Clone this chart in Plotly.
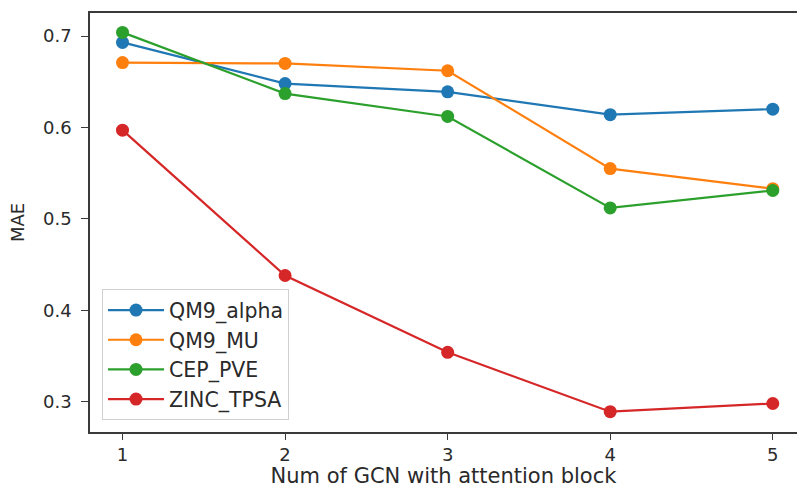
import plotly.graph_objects as go

x_blocks = [1, 2, 3, 4, 5]
qm9_alpha = [0.693, 0.648, 0.639, 0.614, 0.620]
qm9_mu = [0.671, 0.670, 0.662, 0.555, 0.533]
cep_pve = [0.704, 0.637, 0.612, 0.512, 0.531]
zinc_tpsa = [0.597, 0.438, 0.354, 0.289, 0.298]

series_names = ["QM9_alpha", "QM9_MU", "CEP_PVE", "ZINC_TPSA"]
series_values = [qm9_alpha, qm9_mu, cep_pve, zinc_tpsa]
colors = ["#1f77b4", "#ff7f0e", "#2ca02c", "#d62728"]

fig = go.Figure()
for name, vals, c in zip(series_names, series_values, colors):
    fig.add_trace(go.Scatter(
        x=x_blocks, y=vals, name=name, mode="lines+markers",
        line=dict(color=c, width=2.2),
        marker=dict(color=c, size=13),
    ))

font = "DejaVu Sans, sans-serif"
fig.update_layout(
    width=797, height=488,
    margin=dict(l=90, r=0, t=13, b=56),
    plot_bgcolor="white", paper_bgcolor="white",
    font=dict(family=font, color="#2a2a2a", size=18),
    showlegend=True,
    legend=dict(
        x=0.017, y=0.028, xanchor="left", yanchor="bottom",
        bgcolor="rgba(255,255,255,0.85)", bordercolor="#d0d0d0", borderwidth=1,
        font=dict(family=font, size=20.5, color="#2a2a2a"),
        itemwidth=56, tracegroupgap=0,
    ),
    xaxis=dict(
        range=[0.8, 5.149], tickvals=x_blocks, ticktext=[str(v) for v in x_blocks],
        showgrid=False, zeroline=False,
        showline=True, linecolor="#3a3a3a", linewidth=1.5, mirror=True,
        ticks="outside", ticklen=6, tickwidth=1, tickcolor="#3a3a3a",
        tickfont=dict(size=18),
        title=dict(text="Num of GCN with attention block", font=dict(size=21), standoff=4),
    ),
    yaxis=dict(
        range=[0.2668, 0.7252], tickvals=[0.3, 0.4, 0.5, 0.6, 0.7],
        ticktext=["0.3", "0.4", "0.5", "0.6", "0.7"],
        showgrid=False, zeroline=False,
        showline=True, linecolor="#3a3a3a", linewidth=1.5, mirror=False,
        ticks="outside", ticklen=7, tickwidth=1, tickcolor="#3a3a3a",
        tickfont=dict(size=18), ticklabelstandoff=6,
        title=dict(text="MAE", font=dict(size=18), standoff=14),
    ),
)

fig.write_html("out.html")
